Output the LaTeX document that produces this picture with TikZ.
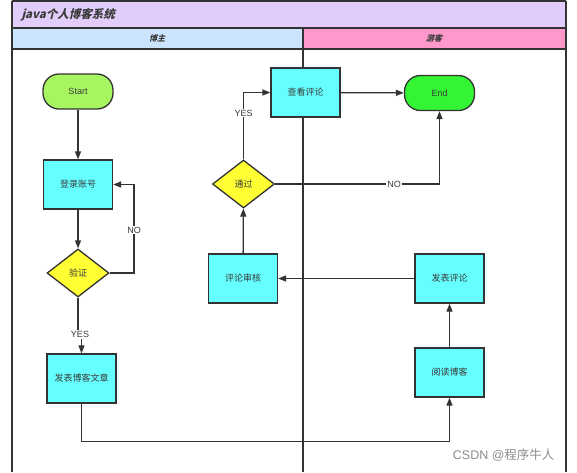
\documentclass[tikz,border=0pt]{standalone}
\usepackage{fontspec}
\setmainfont{Liberation Sans}
\newfontfamily\cjk{Noto Sans CJK SC}
\newfontfamily\cjkit[FakeSlant=0.25]{Noto Sans CJK SC}
\usetikzlibrary{arrows.meta,shapes.geometric}
\definecolor{ln}{HTML}{333333}
\definecolor{txt}{HTML}{3A3A3A}
\definecolor{titlebg}{HTML}{E1CCFA}
\definecolor{bluebg}{HTML}{CCE5FF}
\definecolor{pinkbg}{HTML}{FF99CC}
\definecolor{cyanbg}{HTML}{66FFFF}
\definecolor{yellowbg}{HTML}{FFFF33}
\definecolor{startbg}{HTML}{A6F561}
\definecolor{endbg}{HTML}{33F533}
\tikzset{
  frame/.style={draw=ln, line width=1.2pt},
  proc/.style={draw=ln, line width=1.3pt, fill=cyanbg, rectangle, minimum width=69pt, minimum height=49pt, inner sep=0pt, font=\cjk\fontsize{9}{10}\selectfont, text=txt},
  dec/.style={draw=ln, line width=1.3pt, fill=yellowbg, diamond, minimum width=62pt, minimum height=48pt, inner sep=0pt, font=\cjk\fontsize{9}{10}\selectfont, text=txt},
  term/.style={draw=ln, line width=1.3pt, rectangle, rounded corners=16pt, minimum width=70pt, minimum height=35pt, inner sep=0pt, font=\fontsize{9}{10}\selectfont, text=txt},
  conn/.style={draw=ln, line width=1.3pt},
  arr/.style={conn, -{Triangle[length=8pt,width=6pt]}},
  lbl/.style={fill=white, inner sep=1pt, font=\fontsize{9}{10}\selectfont, text=txt},
  hdr/.style={font=\cjkit\bfseries\fontsize{8}{9}\selectfont, text=txt}
}
\begin{document}
\begin{tikzpicture}[x=1pt,y=-1pt]
\useasboundingbox (0,0) rectangle (577,472);
% swimlane frame
\fill[titlebg] (12,1) rectangle (566,28);
\fill[bluebg] (12,28) rectangle (303,49);
\fill[pinkbg] (303,28) rectangle (566,49);
\draw[frame] (12,1) -- (566,1);
\draw[frame] (12,28) -- (566,28);
\draw[frame] (12,49) -- (566,49);
\draw[frame] (12,1) -- (12,472);
\draw[frame] (566,1) -- (566,472);
\draw[frame] (303,28) -- (303,472);
\node[anchor=west, font=\cjkit\bfseries\fontsize{11.5}{12}\selectfont, text=txt] (title) at (18,14.5) {java个人博客系统};
\node[hdr] (h1) at (157,38.5) {博主};
\node[hdr] (h2) at (434,38.5) {游客};
% nodes
\node[term, fill=startbg] (start) at (78,91.5) {Start};
\node[proc] (login) at (78,184.5) {登录账号};
\node[dec] (yz) at (78,273) {验证};
\node[proc] (post) at (81.5,378.5) {发表博客文章};
\node[proc] (audit) at (243,278.5) {评论审核};
\node[dec] (pass) at (243.5,184) {通过};
\node[proc] (view) at (305.5,92.5) {查看评论};
\node[term, fill=endbg] (endn) at (439.5,93) {End};
\node[proc] (comment) at (449.5,278.5) {发表评论};
\node[proc] (read) at (449.5,372.5) {阅读博客};
% connectors
\draw[arr] (start) -- (login);
\draw[arr] (login) -- (yz);
\coordinate (noA) at (134,273);
\draw[arr] (yz.east) -- (noA) |- (login.east);
\node[lbl] (no1) at (134,230) {NO};
\node[lbl] (yes1) at (80,334.5) {YES};
\draw[conn] (yz.south) -- (yz.south |- yes1.north);
\draw[arr] (yes1.south -| post.north) -- (post.north);
\coordinate (botA) at (81.5,441.5);
\draw[arr] (post.south) -- (botA) -| (read.south);
\draw[arr] (read) -- (comment);
\draw[arr] (comment) -- (audit);
\draw[arr] (audit) -- (pass);
\draw[arr] (pass.north) |- (view.west);
\node[lbl] (yes2) at (243.5,113) {YES};
\draw[arr] (pass.east) -| (endn.south);
\node[lbl] (no2) at (394,184) {NO};
\draw[arr] (view) -- (endn);
% watermark
\node[anchor=east, text=black!45, font=\fontsize{12.5}{13}\selectfont] (wm) at (558,455) {CSDN @{\cjk 程序牛人}};
\end{tikzpicture}
\end{document}
